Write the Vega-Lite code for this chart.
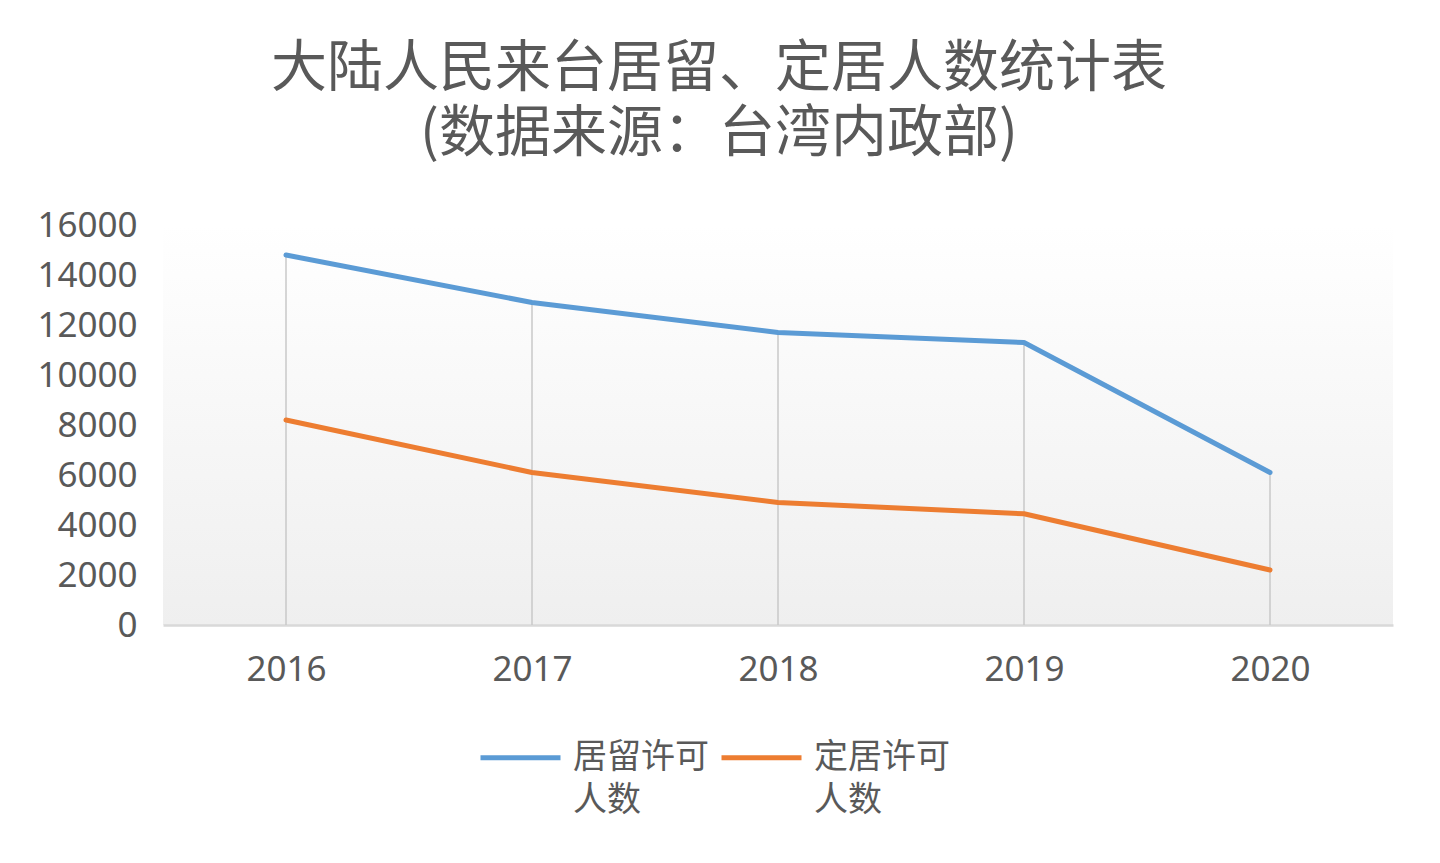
{
  "$schema": "https://vega.github.io/schema/vega-lite/v6.json",
  "width": 1230,
  "height": 400,
  "autosize": {"type": "none"},
  "padding": {"left": 163, "top": 225, "right": 47, "bottom": 238},
  "background": "white",
  "title": {
    "text": ["大陆人民来台居留、定居人数统计表", "(数据来源：台湾内政部)"],
    "font": "Noto Sans CJK SC",
    "fontSize": 56,
    "fontWeight": "normal",
    "color": "#595959",
    "lineHeight": 65,
    "anchor": "middle",
    "frame": "group",
    "dx": -59,
    "offset": 45
  },
  "data": {
    "values": [
      {"year": "2016", "series": "居留许可人数", "value": 14800},
      {"year": "2017", "series": "居留许可人数", "value": 12900},
      {"year": "2018", "series": "居留许可人数", "value": 11700},
      {"year": "2019", "series": "居留许可人数", "value": 11300},
      {"year": "2020", "series": "居留许可人数", "value": 6100},
      {"year": "2016", "series": "定居许可人数", "value": 8200},
      {"year": "2017", "series": "定居许可人数", "value": 6100},
      {"year": "2018", "series": "定居许可人数", "value": 4900},
      {"year": "2019", "series": "定居许可人数", "value": 4450},
      {"year": "2020", "series": "定居许可人数", "value": 2200}
    ]
  },
  "layer": [
    {
      "transform": [{"aggregate": [{"op": "max", "field": "value", "as": "top"}], "groupby": ["year"]}],
      "mark": {"type": "rule", "color": "#c8c8c8", "strokeWidth": 1.5},
      "encoding": {
        "x": {"field": "year", "type": "ordinal"},
        "y": {"field": "top", "type": "quantitative"},
        "y2": {"datum": 0}
      }
    },
    {
      "mark": {"type": "line", "strokeWidth": 5, "strokeJoin": "round", "strokeCap": "round"},
      "encoding": {
        "x": {"field": "year", "type": "ordinal"},
        "y": {"field": "value", "type": "quantitative"},
        "color": {
          "field": "series",
          "type": "nominal",
          "scale": {"domain": ["居留许可人数", "定居许可人数"], "range": ["#5b9bd5", "#ed7d31"]},
          "legend": {
            "orient": "none",
            "legendX": 315,
            "legendY": 490,
            "direction": "horizontal",
            "title": null,
            "symbolType": "stroke",
            "symbolStrokeWidth": 5,
            "symbolSize": 6400,
            "labelFont": "Noto Sans CJK SC",
            "labelFontSize": 34,
            "labelColor": "#595959",
            "labelLimit": 0,
            "labelOffset": 10,
            "columnPadding": 2,
            "labelBaseline": "middle",
            "labelExpr": "[slice(datum.label,0,4), slice(datum.label,4)]",
            "encode": {"labels": {"update": {"lineHeight": {"value": 43}}}}
          }
        }
      }
    }
  ],
  "encoding": {
    "x": {
      "field": "year",
      "type": "ordinal",
      "scale": {"type": "point", "padding": 0.5},
      "axis": {
        "title": null,
        "labelAngle": 0,
        "ticks": false,
        "domainColor": "#d9d9d9",
        "domainWidth": 2.5,
        "labelFont": "Noto Sans",
        "labelFontSize": 35,
        "labelColor": "#595959",
        "labelPadding": 27
      }
    },
    "y": {
      "type": "quantitative",
      "scale": {"domain": [0, 16000], "nice": false},
      "axis": {
        "title": null,
        "values": [0, 2000, 4000, 6000, 8000, 10000, 12000, 14000, 16000],
        "grid": false,
        "domain": false,
        "ticks": false,
        "format": "d",
        "labelFont": "Noto Sans",
        "labelFontSize": 35,
        "labelColor": "#595959",
        "labelPadding": 26
      }
    }
  },
  "config": {
    "view": {
      "stroke": null,
      "fill": {
        "gradient": "linear",
        "x1": 0, "y1": 0, "x2": 0, "y2": 1,
        "stops": [
          {"offset": 0, "color": "#ffffff"},
          {"offset": 1, "color": "#efefef"}
        ]
      }
    }
  }
}
